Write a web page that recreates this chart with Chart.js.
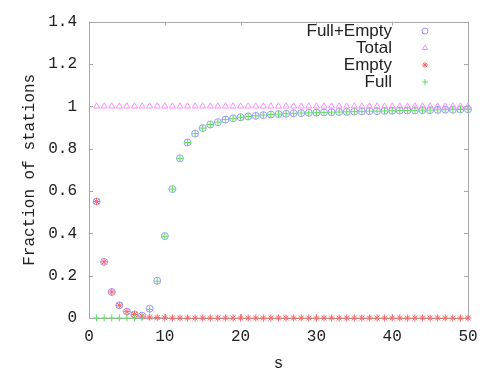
<!DOCTYPE html>
<html>
<head>
<meta charset="utf-8">
<script src="https://cdn.jsdelivr.net/npm/chart.js@4.4.1/dist/chart.umd.min.js"></script>
<style>
html, body { margin: 0; padding: 0; background: #fff; }
</style>
</head>
<body>
<canvas id="stationChart" width="500" height="372"></canvas>
<script>
var sValues = [1, 2, 3, 4, 5, 6, 7, 8, 9, 10, 11, 12, 13, 14, 15, 16, 17, 18, 19, 20,
	21, 22, 23, 24, 25, 26, 27, 28, 29, 30, 31, 32, 33, 34, 35, 36, 37, 38, 39, 40,
	41, 42, 43, 44, 45, 46, 47, 48, 49, 50];

var fullEmpty = [0.55, 0.265, 0.123, 0.06, 0.03, 0.017, 0.011, 0.044, 0.176, 0.387,
	0.609, 0.754, 0.829, 0.871, 0.897, 0.914, 0.925, 0.937, 0.943, 0.948,
	0.952, 0.955, 0.958, 0.961, 0.963, 0.965, 0.967, 0.968, 0.969, 0.970,
	0.971, 0.972, 0.973, 0.974, 0.975, 0.976, 0.977, 0.977, 0.978, 0.979,
	0.980, 0.980, 0.981, 0.982, 0.982, 0.983, 0.984, 0.984, 0.985, 0.986];

var total = [1, 1, 1, 1, 1, 1, 1, 1, 1, 1, 1, 1, 1, 1, 1, 1, 1, 1, 1, 1,
	1, 1, 1, 1, 1, 1, 1, 1, 1, 1, 1, 1, 1, 1, 1, 1, 1, 1, 1, 1,
	1, 1, 1, 1, 1, 1, 1, 1, 1, 1];

var empty = [0.55, 0.265, 0.123, 0.06, 0.03, 0.017, 0.009, 0.004, 0.002, 0.001,
	0, 0, 0, 0, 0, 0, 0, 0, 0, 0, 0, 0, 0, 0, 0, 0, 0, 0, 0, 0,
	0, 0, 0, 0, 0, 0, 0, 0, 0, 0, 0, 0, 0, 0, 0, 0, 0, 0, 0, 0];

var full = [0, 0, 0, 0, 0, 0, 0.002, 0.04, 0.174, 0.386,
	0.609, 0.754, 0.829, 0.871, 0.897, 0.914, 0.925, 0.937, 0.943, 0.948,
	0.952, 0.955, 0.958, 0.961, 0.963, 0.965, 0.967, 0.968, 0.969, 0.970,
	0.971, 0.972, 0.973, 0.974, 0.975, 0.976, 0.977, 0.977, 0.978, 0.979,
	0.980, 0.980, 0.981, 0.982, 0.982, 0.983, 0.984, 0.984, 0.985, 0.986];

var xTicks = [0, 10, 20, 30, 40, 50];
var yTicks = [0, 0.2, 0.4, 0.6, 0.8, 1, 1.2, 1.4];
var yTickLabels = ["0", "0.2", "0.4", "0.6", "0.8", "1", "1.2", "1.4"];

function toPoints(values) {
	var pts = [];
	for (var i = 0; i < sValues.length; i++) {
		pts.push({ x: sValues[i], y: values[i] });
	}
	return pts;
}

function series(label, values, style, color, radius, order) {
	return {
		label: label,
		data: toPoints(values),
		pointStyle: style,
		pointRadius: radius,
		pointHoverRadius: radius,
		pointBorderWidth: 1,
		borderColor: color,
		backgroundColor: 'rgba(0,0,0,0)',
		showLine: false,
		clip: false,
		order: order
	};
}

// gnuplot style frame with inward ticks on all four sides
var framePlugin = {
	id: 'frame',
	beforeDatasetsDraw: function(chart) {
		var ctx = chart.ctx;
		var a = chart.chartArea;
		var xs = chart.scales.x;
		var ys = chart.scales.y;
		var len = 4;
		ctx.save();
		ctx.strokeStyle = '#a8a8a8';
		ctx.lineWidth = 1;
		ctx.beginPath();
		ctx.rect(Math.round(a.left) + 0.5, Math.round(a.top) + 0.5,
				Math.round(a.right - a.left), Math.round(a.bottom - a.top));
		xTicks.forEach(function(v) {
			var px = Math.round(xs.getPixelForValue(v)) + 0.5;
			ctx.moveTo(px, a.bottom);
			ctx.lineTo(px, a.bottom - len);
			ctx.moveTo(px, a.top);
			ctx.lineTo(px, a.top + len);
		});
		yTicks.forEach(function(v) {
			var py = Math.round(ys.getPixelForValue(v)) + 0.5;
			ctx.moveTo(a.left, py);
			ctx.lineTo(a.left + len, py);
			ctx.moveTo(a.right, py);
			ctx.lineTo(a.right - len, py);
		});
		ctx.stroke();
		ctx.restore();
	}
};

// legend in the gnuplot way: right aligned text, sample to the right
var keyPlugin = {
	id: 'key',
	afterDraw: function(chart) {
		var ctx = chart.ctx;
		var textRight = 392;
		var sampleX = 425;
		var rowY = 31;
		var rowStep = 17;
		ctx.save();
		ctx.font = '17px "Liberation Sans", Arial, sans-serif';
		ctx.textAlign = 'right';
		ctx.textBaseline = 'middle';
		chart.data.datasets.forEach(function(ds, i) {
			var y = rowY + i * rowStep;
			ctx.fillStyle = '#222';
			ctx.fillText(ds.label, textRight, y);
			ctx.strokeStyle = ds.borderColor;
			ctx.fillStyle = ds.backgroundColor;
			ctx.lineWidth = 1;
			Chart.helpers.drawPoint(ctx, {
				pointStyle: ds.pointStyle,
				radius: 3,
				rotation: 0,
				borderWidth: 1
			}, sampleX, y);
		});
		ctx.restore();
	}
};

var ctx = document.getElementById('stationChart');
var stationChart = new Chart(ctx, {
	type: 'scatter',
	data: {
		datasets: [
			series('Full+Empty', fullEmpty, 'circle', '#9a9aff', 3.5, 4),
			series('Total', total, 'triangle', '#ff8cff', 3.5, 3),
			series('Empty', empty, 'star', '#ff6464', 3.5, 2),
			series('Full', full, 'cross', '#5ce05c', 3.5, 1)
		]
	},
	options: {
		responsive: false,
		devicePixelRatio: 1,
		animation: false,
		layout: {
			padding: { left: 0, right: 32, top: 18, bottom: 0 }
		},
		plugins: {
			legend: { display: false },
			tooltip: { enabled: false }
		},
		scales: {
			x: {
				type: 'linear',
				min: 0,
				max: 50,
				afterBuildTicks: function(scale) {
					scale.ticks = xTicks.map(function(v) { return { value: v }; });
				},
				afterFit: function(scale) { scale.height = 54; },
				grid: { display: false, drawTicks: false },
				border: { display: false },
				ticks: {
					padding: 9,
					color: '#222',
					font: { family: '"Liberation Mono", "Courier New", monospace', size: 16 },
					maxRotation: 0,
					callback: function(v) { return String(v); }
				},
				title: {
					display: true,
					text: 's',
					color: '#222',
					padding: { top: 0, bottom: -1 },
					font: { family: '"Liberation Mono", "Courier New", monospace', size: 16 }
				}
			},
			y: {
				type: 'linear',
				min: 0,
				max: 1.4,
				afterBuildTicks: function(scale) {
					scale.ticks = yTicks.map(function(v) { return { value: v }; });
				},
				afterFit: function(scale) { scale.width = 89; },
				grid: { display: false, drawTicks: false },
				border: { display: false },
				ticks: {
					padding: 12,
					color: '#222',
					font: { family: '"Liberation Mono", "Courier New", monospace', size: 16 },
					callback: function(v, i) { return yTickLabels[i]; }
				},
				title: {
					display: true,
					text: 'Fraction of stations',
					color: '#222',
					padding: { top: 20, bottom: 0 },
					font: { family: '"Liberation Mono", "Courier New", monospace', size: 16 }
				}
			}
		}
	},
	plugins: [framePlugin, keyPlugin]
});
</script>
</body>
</html>
